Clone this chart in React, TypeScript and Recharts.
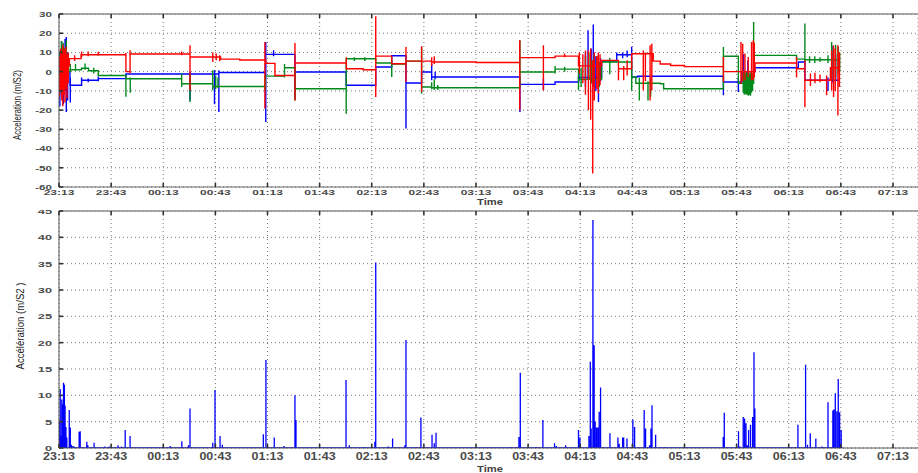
import React from 'react';
import { LineChart, Line, XAxis, YAxis, CartesianGrid, ReferenceLine } from 'recharts';

// time axis: minutes after 23:13
const TIME_TICKS = [0, 30, 60, 90, 120, 150, 180, 210, 240, 270, 300, 330, 360, 390, 420, 450, 480];
const TIME_LABELS = ['23:13', '23:43', '00:13', '00:43', '01:13', '01:43', '02:13', '02:43', '03:13', '03:43', '04:13', '04:43', '05:13', '05:43', '06:13', '06:43', '07:13'];
const TOP_Y_TICKS = [-60, -50, -40, -30, -20, -10, 0, 10, 20, 30];
const BOTTOM_Y_TICKS = [0, 5, 10, 15, 20, 25, 30, 35, 40, 45];
const X_END = 494.4;
const DATA_END = 449.5;

// [time, level held from that time]
const RED_LEVELS: [number, number][] = [
  [0, 3], [6, 6.8], [12.7, 8.8], [38.5, 0], [40.9, 9.2], [75.4, 7.6], [93, 6.5], [104, 6.1], [119, 4.3],
  [124.3, -2], [135.8, 4.5], [165.4, 1.5], [175, 1], [182.3, 8.1], [191.5, 4.1], [199.7, 5.5], [214.5, 5],
  [240, 4.8], [265.2, 7.3], [285.5, 8.1], [299, 3], [312.3, 5.9], [322, 1.5], [329.6, 9.3], [342, 5.5],
  [346, 4], [352, 3.2], [360, 2.6], [382.4, 0], [400.6, 4.5], [424.5, 1.5], [429.3, -4.5], [444, 2],
];
// [time, low, high]
const RED_SPIKES: [number, number, number][] = [
  [0.3, -13, 8], [1, -10, 12], [1.6, -15, 10], [2.2, -18, 14], [2.8, -12, 11], [3.4, -16, 12], [4, -9, 13],
  [4.6, -14, 9], [5.3, -6, 10], [9, 5.5, 8.5], [13, 7.5, 10.5], [16.8, 8, 10.5], [22.6, 8.3, 10.3],
  [38.5, -0.2, 9.7], [40.9, -1, 11.2], [70.6, 8.5, 10.5], [75.4, -9.7, 13.7], [88.5, 5, 10], [90.5, 6, 9.5],
  [92.5, 5.5, 8.5], [118.5, -19.2, 15.4], [135.8, -15, 14.9], [165.4, 1.5, 7.5], [182.3, -13.2, 28.8],
  [199.7, -5.4, 12.8], [208.7, -10.6, 13.2], [214.5, 3, 7.5], [216, 4, 8], [265.2, -20.1, 16.3],
  [278.8, -9.7, 13.7], [291, 7.5, 9.5], [299.5, -1, 10], [301.5, -6, 9], [303, -12, 11], [304.7, -20, 11],
  [306, -25, 12], [307.2, -53, 6], [308.1, -15, 10], [309.5, -9, 8], [310.4, -11.4, 10], [311.4, -7, 9],
  [322, -4.5, 5.9], [325, -4.5, 3], [327, -2, 5.9], [336.3, -9.7, 11], [337.5, -5, 10], [340.2, -15, 13.7],
  [341.2, -9.7, 14.5], [382.4, -5.4, 7.6], [392.5, -6.3, 15.4], [393.5, -5, 14.5], [394.8, -4.5, 9.4],
  [396.7, -2.8, 7.6], [398.6, -4.5, 15.4], [399.6, -4.5, 16.3], [400.2, -3, 15], [424.5, -3, 7.6],
  [429.3, -18.5, 5.9], [432.5, -7.4, -1], [435.1, -6, -0.5], [438, -5.5, -1.5], [441.8, -12.3, -2],
  [444.7, -9.7, 11], [445.8, -13.2, 13.7], [446.8, -10, 12], [448.3, -22.8, 13.7], [449.2, -8, 10],
];

const GREEN_LEVELS: [number, number][] = [
  [0, 0], [6.3, 1], [13, 1.8], [17, 0.5], [22.6, -2], [38.5, -3.7], [70.6, -6.3], [88.5, -7.7], [118.8, -2.3],
  [129.8, 2], [135.8, -8.9], [165.3, 6.7], [182.3, 4.5], [191.5, 4], [199.7, 5.5], [208.7, -8], [214.5, -8.4],
  [265.3, -0.2], [285.5, 1.3], [299, -4], [312.3, 5], [329.6, -2.8], [332, -6], [346, -6.3], [348, -8.9],
  [382.4, 8], [391, -6], [399.8, 8.5], [424.5, 6.5], [429.3, 6.2],
];
const GREEN_SPIKES: [number, number, number][] = [
  [0.6, -8, 10], [1.4, -11, 16], [2.4, -6, 15], [3.2, -9, 12], [4.2, -5, 16.3], [5.2, -3, 9],
  [6.5, 0, 4], [9.5, 0.5, 4], [15, 1, 4.2], [20, -1, 2], [38.5, -13, -2], [41, -11, -3], [70.6, -8, -1],
  [75.4, -15.8, -1], [88.5, -9.7, 0.7], [90.2, -9, -2], [91.5, -8.5, -3], [118.6, -9.7, -2], [129.8, -3, 4],
  [135.8, -15, 2], [165.3, -21.9, 6.7], [170, 5.5, 7.5], [176, 5.5, 7.5], [191.5, -2.8, 5.9],
  [208.7, -11.5, 12.8], [214.5, -9.2, -5.5], [216, -9.5, -4], [218, -9.5, -7], [265.3, -8.4, 16.3],
  [285.5, -1, 3], [291, 0, 2.5], [299, -9.7, 1], [300.5, -8, 2], [303, -5, 8], [305, -3, 10], [306.5, -6, 6],
  [308, -2, 9], [309.5, -4, 8], [311, -8, 5], [317, -1.3, 7.1], [329.6, -9.7, 5], [334, -15, -3],
  [339, -15, -5], [340.5, -13, -3], [382.4, -9, 12.8], [393.8, -11, -1], [394.4, -12, 0], [395, -11.5, -1],
  [395.6, -12, 0], [396.2, -12, -1], [396.8, -12.5, 0], [397.4, -12, -1], [398, -12.5, 0], [398.6, -11, -2],
  [399.2, -10, -1], [399.8, -5, 25.8], [429.3, 5, 25], [432, 4.5, 8], [435, 4.5, 8], [438, 5, 7.5],
  [442.6, 4.5, 8.5], [444.7, -2, 15.4], [445.8, -5, 12], [447, -3, 14], [448.5, -1, 13], [449.3, 0, 10],
];

const BLUE_LEVELS: [number, number][] = [
  [0, 0], [6.3, -7.1], [13, -4.5], [22.6, -3.6], [38.5, -1.2], [92, -0.4], [119, 9], [135.8, -0.2],
  [165.3, -7.1], [182.3, 2.4], [191.5, 8.3], [199.7, -5.9], [208.7, -0.2], [214.5, -2.8], [265.3, -6.6],
  [285.5, -5.4], [299, -3], [312.3, 5.5], [321, 8.8], [329.6, -2.8], [333, -2.4], [382.4, -5.4], [393, 0],
  [400.6, 2], [425.5, 5], [429.3, -4.5],
];
const BLUE_SPIKES: [number, number, number][] = [
  [0.5, -18, 10], [1.5, -12, 16], [2.5, -17, 8], [3.5, -10, 17], [4.2, -21, 18], [5, -15, 10],
  [6.5, -16, -3], [13, -6, -3], [16.8, -5.5, -3.5], [22.6, -5, -2.5], [75.4, -15, 0], [89.5, -17, 0.7],
  [92, -21, 0.7], [119, -26.2, 15.4], [123.5, 8, 11.1], [135.8, -14, 9], [199.7, -29.6, 8.3],
  [214.5, -4.5, 4], [216.5, -4, 0], [265.3, -21, -2.8], [278.8, -9.7, -3.5], [299.3, -5, 1], [303, -8, 10],
  [304.5, -4, 21.5], [306.3, -6, 12], [307.5, -8, 24.6], [309, -10, 8], [310.5, -15.8, 5], [311.7, -5, 7],
  [321, 7, 10], [324.4, 7, 10], [327, 7.5, 11], [329.6, -2.8, 13], [382.4, -12.3, -2], [391, -10.6, -3],
  [394, -6, 9], [396.5, -3, 6], [442.6, -10, -3], [445.5, -6, 13.4], [447, -4, 9],
];

// magnitude spikes [time, value]
const MAG_SPIKES: [number, number][] = [
  [0.1, 5], [0.7, 11.2], [1.2, 2.3], [1.6, 9.2], [2.0, 8.3], [2.6, 12.4], [3.1, 12.0], [3.5, 8], [4, 4], [4.5, 2],
  [5.9, 7.2], [6.5, 3.9], [7.1, 0.6], [8, 0.4], [8.7, 0.3], [11.6, 3.1], [12.2, 3.2], [16, 1.2], [16.6, 0.5],
  [20.2, 1.0], [26.4, 0.3], [28.9, 0.3], [34, 0.5], [36, 0.3], [38.1, 3.4], [40.9, 2.3], [53.5, 0.2], [64, 0.4],
  [70.7, 1.3], [74.5, 0.5], [75.4, 7.5], [88.5, 1.0], [89.8, 11.0], [92.7, 2.3], [94, 0.6], [117.6, 2.6],
  [119.1, 16.7], [123.9, 2.0], [129.5, 0.4], [135.8, 10.0], [136.4, 5.3], [165.2, 12.9], [167.1, 0.5],
  [176, 0.2], [181.8, 1.2], [182.3, 35.2], [189.5, 0.3], [192, 1.8], [199.1, 0.5], [199.7, 20.5], [205.4, 0.2],
  [208.3, 5.8], [214.7, 2.5], [216, 0.9], [217, 2.9], [260.3, 0.2], [263.8, 0.2], [264.7, 2.1], [265.5, 14.3],
  [272.2, 0.1], [274.7, 0.2], [278.5, 5.3], [285.2, 0.9], [286.2, 0.4], [291.6, 0.5], [295.8, 0.1], [299, 3.4],
  [299.8, 2], [305, 2.3], [305.8, 16.4], [306.3, 3.7], [307.3, 43.3], [308, 19.5], [308.6, 5], [309.4, 3.9],
  [310.2, 3.9], [310.9, 6.9], [311.7, 11.5], [313.4, 0.2], [317.1, 2.8], [321.7, 2.0], [322.4, 0.8],
  [324.4, 2.0], [325, 2.0], [326.9, 1.8], [330.3, 5.4], [331.3, 4], [334.2, 0.1], [336.8, 7.2], [337.6, 3.7],
  [339.9, 0.5], [340.7, 3.7], [341.3, 8.1], [343.4, 2.5], [346.6, 0.2], [348.5, 0.2], [360, 0.2], [382.3, 2.1],
  [382.9, 6.7], [391.1, 3.2], [391.9, 0.3], [393.8, 5.9], [394.6, 5.6], [395.4, 4.7], [396.1, 0.5],
  [396.9, 3.4], [398, 4.4], [399.2, 5.9], [400, 18.2], [400.5, 7.5], [425.3, 4.4], [429.7, 15.8],
  [430.8, 0.6], [432.4, 2.8], [435.6, 1.8], [439.1, 0.3], [442.6, 8.7], [445.4, 7.1], [446, 7.3],
  [446.8, 10.4], [447.7, 7.0], [448.5, 13.1], [449.3, 6.8], [450.2, 3.4],
];

type Pt = { t: number; v: number };

function buildSteps(levels: [number, number][], spikes: [number, number, number][], end: number): Pt[] {
  const ev: { t: number; lvl?: number; lo?: number; hi?: number }[] = [];
  levels.forEach(([t, v]) => ev.push({ t, lvl: v }));
  spikes.forEach(([t, lo, hi]) => ev.push({ t, lo, hi }));
  ev.sort((a, b) => a.t - b.t);
  const out: Pt[] = [];
  let cur = levels[0][1];
  out.push({ t: levels[0][0], v: cur });
  for (const e of ev) {
    if (e.lvl !== undefined) {
      out.push({ t: e.t, v: cur });
      out.push({ t: e.t, v: e.lvl });
      cur = e.lvl;
    } else {
      out.push({ t: e.t, v: cur });
      out.push({ t: e.t, v: e.lo as number });
      out.push({ t: e.t, v: e.hi as number });
      out.push({ t: e.t, v: cur });
    }
  }
  out.push({ t: end, v: cur });
  return out;
}

function buildSpikes(spikes: [number, number][], end: number): Pt[] {
  const out: Pt[] = [{ t: 0, v: 0 }];
  spikes.forEach(([t, v]) => {
    out.push({ t, v: 0 });
    out.push({ t, v });
    out.push({ t, v: 0 });
  });
  out.push({ t: end, v: 0 });
  return out;
}

const redData = buildSteps(RED_LEVELS, RED_SPIKES, DATA_END);
const greenData = buildSteps(GREEN_LEVELS, GREEN_SPIKES, DATA_END);
const blueData = buildSteps(BLUE_LEVELS, BLUE_SPIKES, DATA_END);
const magData = buildSpikes(MAG_SPIKES, 451);

const FONT = "'Liberation Sans', Arial, sans-serif";
const TICK_FILL = '#4a4a4a';

const XTick = (props: any) => {
  const { x, y, payload, plotH, fs, sx, dy } = props;
  const i = TIME_TICKS.indexOf(payload.value);
  return (
    <g>
      <line x1={x} x2={x} y1={y} y2={y - 4} stroke="#333" strokeWidth={1.6} />
      <line x1={x} x2={x} y1={y - plotH} y2={y - plotH + 4} stroke="#333" strokeWidth={1.6} />
      <text
        transform={`translate(${x},${y + dy}) scale(${sx},1)`}
        textAnchor="middle"
        fontFamily={FONT}
        fontWeight="bold"
        fontSize={fs}
        fill={TICK_FILL}
      >
        {TIME_LABELS[i]}
      </text>
    </g>
  );
};

const YTick = (props: any) => {
  const { x, y, payload, fs, sx } = props;
  return (
    <g>
      <line x1={x} x2={x + 4} y1={y} y2={y} stroke="#333" strokeWidth={1.6} />
      <text
        transform={`translate(${x - 7},${y}) scale(${sx},1)`}
        textAnchor="end"
        dy="0.36em"
        fontFamily={FONT}
        fontWeight="bold"
        fontSize={fs}
        fill={TICK_FILL}
      >
        {payload.value}
      </text>
    </g>
  );
};

const YTitle = (props: any) => {
  const { cx, cy, text, len } = props;
  return (
    <text
      transform={`translate(${cx},${cy}) rotate(-90)`}
      textAnchor="middle"
      dy="0.35em"
      fontFamily={FONT}
      fontSize={10}
      textLength={len}
      lengthAdjust="spacingAndGlyphs"
      fill="#222"
    >
      {text}
    </text>
  );
};

const XTitle = (props: any) => {
  const { cx, cy } = props;
  return (
    <text
      transform={`translate(${cx},${cy}) scale(1.25,1)`}
      textAnchor="middle"
      dy="0.35em"
      fontFamily={FONT}
      fontWeight="bold"
      fontSize={9}
      fill="#444"
    >
      Time
    </text>
  );
};

export default function App() {
  return (
    <div style={{ position: 'relative', width: 918, height: 473, background: '#fff' }}>
      <style>{'body{margin:0;background:#fff;}'}</style>
      <div style={{ position: 'absolute', left: 0, top: 0 }}>
        <LineChart width={918} height={210} margin={{ top: 14, right: 0, bottom: 0, left: 0 }}>
          <CartesianGrid stroke="#777" strokeDasharray="1 3" />
          <XAxis
            dataKey="t"
            type="number"
            domain={[0, X_END]}
            ticks={TIME_TICKS}
            allowDataOverflow
            height={23}
            tickSize={0}
            tickMargin={0}
            tickLine={false}
            interval={0}
            stroke="#666"
            tick={<XTick plotH={173} fs={8} sx={1.5} dy={8.4} />}
            label={<XTitle cx={490} cy={202} />}
          />
          <YAxis
            type="number"
            domain={[-60, 30]}
            ticks={TOP_Y_TICKS}
            allowDataOverflow
            width={59}
            tickSize={0}
            tickMargin={0}
            tickLine={false}
            interval={0}
            stroke="#555"
            tick={<YTick fs={8} sx={1.45} />}
            label={<YTitle cx={17} cy={105} len={70} text="Acceleration (m/S2)" />}
          />
          <ReferenceLine y={30} stroke="#8c8c8c" strokeWidth={1.5} />
          <Line data={blueData} dataKey="v" stroke="#0000ff" strokeWidth={1.4} dot={false} isAnimationActive={false} />
          <Line data={greenData} dataKey="v" stroke="#008a1c" strokeWidth={1.4} dot={false} isAnimationActive={false} />
          <Line data={redData} dataKey="v" stroke="#ff0000" strokeWidth={1.4} dot={false} isAnimationActive={false} />
        </LineChart>
      </div>
      <div style={{ position: 'absolute', left: 0, top: 210 }}>
        <LineChart width={918} height={263} margin={{ top: 1, right: 0, bottom: 0, left: 0 }}>
          <CartesianGrid stroke="#777" strokeDasharray="1 3" />
          <XAxis
            dataKey="t"
            type="number"
            domain={[0, X_END]}
            ticks={TIME_TICKS}
            allowDataOverflow
            height={25}
            tickSize={0}
            tickMargin={0}
            tickLine={false}
            interval={0}
            stroke="#555"
            tick={<XTick plotH={237} fs={10} sx={1.25} dy={12} />}
            label={<XTitle cx={490} cy={259} />}
          />
          <YAxis
            type="number"
            domain={[0, 45]}
            ticks={BOTTOM_Y_TICKS}
            allowDataOverflow
            width={59}
            tickSize={0}
            tickMargin={0}
            tickLine={false}
            interval={0}
            stroke="#555"
            tick={<YTick fs={8} sx={1.6} />}
            label={<YTitle cx={20} cy={116} len={87} text="Accélération (m/S2 )" />}
          />
          <ReferenceLine y={45} stroke="#8c8c8c" strokeWidth={1.5} />
          <Line data={magData} dataKey="v" stroke="#0000ff" strokeWidth={1.3} dot={false} isAnimationActive={false} />
        </LineChart>
      </div>
    </div>
  );
}
